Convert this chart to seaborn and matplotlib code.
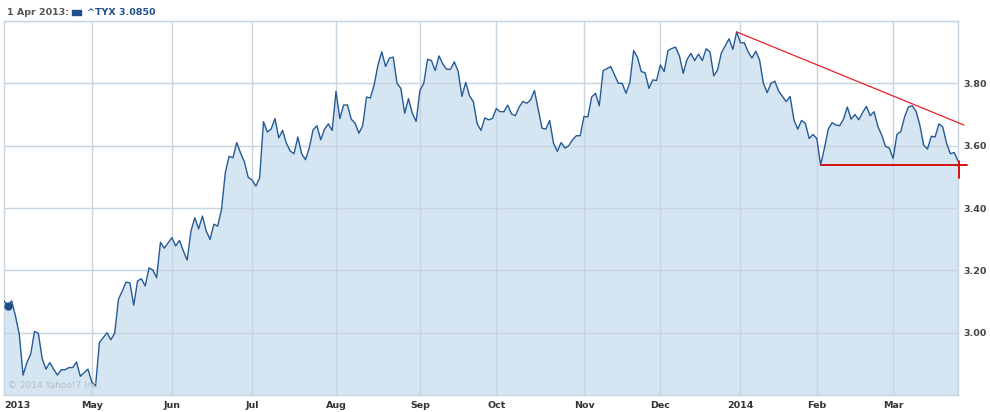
import matplotlib
matplotlib.use("Agg")
import matplotlib.pyplot as plt
import numpy as np
import pandas as pd
import seaborn as sns

# ^TYX daily close, one value per trading session (1 Apr 2013 - Mar 2014)
tyx_close = [
    3.102, 3.086, 3.102, 3.054, 2.995, 2.864, 2.904, 2.931, 3.004, 2.998,
    2.917, 2.883, 2.904, 2.883, 2.864, 2.881, 2.881, 2.888, 2.888, 2.906,
    2.860, 2.872, 2.883, 2.842, 2.830, 2.968, 2.984, 3.000, 2.977, 2.998,
    3.107, 3.134, 3.162, 3.160, 3.088, 3.166, 3.173, 3.150, 3.208, 3.201,
    3.176, 3.290, 3.271, 3.288, 3.305, 3.278, 3.296, 3.262, 3.233, 3.326,
    3.369, 3.333, 3.374, 3.326, 3.299, 3.348, 3.342, 3.395, 3.514, 3.566,
    3.561, 3.610, 3.576, 3.548, 3.498, 3.490, 3.470, 3.497, 3.677, 3.644,
    3.653, 3.687, 3.625, 3.649, 3.608, 3.583, 3.574, 3.628, 3.574, 3.555,
    3.593, 3.651, 3.664, 3.619, 3.653, 3.670, 3.649, 3.774, 3.687, 3.730,
    3.731, 3.685, 3.672, 3.640, 3.664, 3.756, 3.753, 3.795, 3.859, 3.901,
    3.854, 3.881, 3.884, 3.800, 3.784, 3.704, 3.751, 3.704, 3.678, 3.777,
    3.800, 3.877, 3.873, 3.841, 3.888, 3.862, 3.845, 3.845, 3.869, 3.839,
    3.758, 3.803, 3.760, 3.741, 3.670, 3.649, 3.689, 3.683, 3.687, 3.719,
    3.709, 3.709, 3.730, 3.702, 3.696, 3.724, 3.742, 3.736, 3.747, 3.777,
    3.717, 3.656, 3.653, 3.681, 3.608, 3.582, 3.610, 3.592, 3.600, 3.619,
    3.632, 3.632, 3.694, 3.692, 3.756, 3.768, 3.728, 3.841, 3.847, 3.854,
    3.827, 3.800, 3.800, 3.768, 3.802, 3.905, 3.884, 3.838, 3.834, 3.784,
    3.811, 3.809, 3.859, 3.838, 3.905, 3.912, 3.916, 3.888, 3.832, 3.877,
    3.896, 3.873, 3.894, 3.873, 3.911, 3.901, 3.824, 3.843, 3.898, 3.920,
    3.943, 3.909, 3.965, 3.930, 3.930, 3.901, 3.881, 3.903, 3.875, 3.800,
    3.770, 3.800, 3.807, 3.775, 3.758, 3.741, 3.758, 3.683, 3.653, 3.681,
    3.672, 3.623, 3.636, 3.623, 3.538, 3.592, 3.653, 3.674, 3.666, 3.664,
    3.685, 3.724, 3.685, 3.700, 3.683, 3.706, 3.726, 3.696, 3.709, 3.662,
    3.634, 3.598, 3.592, 3.559, 3.636, 3.645, 3.692, 3.724, 3.728, 3.711,
    3.666, 3.602, 3.589, 3.630, 3.628, 3.670, 3.660, 3.608, 3.574, 3.578,
    3.551,
]
session = list(range(len(tyx_close)))

# first session of each month and its label
month_start = [0, 23, 44, 65, 87, 109, 129, 152, 172, 193, 213, 233]
month_label = ["2013", "May", "Jun", "Jul", "Aug", "Sep", "Oct", "Nov",
               "Dec", "2014", "Feb", "Mar"]

y_ticks = [3.00, 3.20, 3.40, 3.60, 3.80]
y_grid = [3.00, 3.20, 3.40, 3.60, 3.80, 4.00]

# drawn trend lines
resistance_x = [192, 251.6]
resistance_y = [3.965, 3.666]
support_x = [214, 252.3]
support_y = [3.538, 3.538]
last_tick_x = [250.3, 250.3]
last_tick_y = [3.551, 3.497]

hover_session = 1
hover_value = 3.085

df = pd.DataFrame({"session": session, "close": tyx_close})

sns.set_style("white")
plt.rcParams["font.family"] = ["DejaVu Sans"]

LINE = "#245a96"
FILL = "#d5e5f1"
GRID = "#c6d5e0"

fig = plt.figure(figsize=(9.9, 4.12), dpi=100)
ax = fig.add_axes([4 / 990, 17 / 412, 954 / 990, 374 / 412])

ax.fill_between(df["session"], df["close"], 2.80, color=FILL, lw=0, zorder=1)
sns.lineplot(data=df, x="session", y="close", ax=ax, color=LINE, lw=1.0,
             zorder=3)
ax.plot([hover_session], [hover_value], "o", color="#1b4f8a", ms=5,
        zorder=4, clip_on=False)

ax.plot(resistance_x, resistance_y, color="#e8202a", lw=0.9, zorder=5,
        clip_on=False)
ax.plot(support_x, support_y, color="#d40000", lw=1.3, zorder=5,
        clip_on=False)
ax.plot(last_tick_x, last_tick_y, color="#d40000", lw=1.3, zorder=5,
        clip_on=False)

ax.set_xlim(0, len(tyx_close) - 1)
ax.set_ylim(2.80, 4.00)

# grid
for y in y_grid:
    ax.axhline(y, color=GRID, lw=1, zorder=2)
for x in month_start[1:]:
    ax.axvline(x, color=GRID, lw=1, zorder=2)
for s in ax.spines.values():
    s.set_color(GRID)
    s.set_linewidth(1)

ax.yaxis.tick_right()
ax.set_yticks(y_ticks)
ax.set_yticklabels([f"{v:.2f}" for v in y_ticks], fontsize=6.8,
                   fontweight="bold", color="#444444")
ax.set_xticks(month_start)
ax.set_xticklabels(month_label, fontsize=6.8, fontweight="bold",
                   color="#333333")
ax.get_xticklabels()[0].set_horizontalalignment("left")
ax.tick_params(axis="both", length=0)
ax.tick_params(axis="y", pad=4)
ax.tick_params(axis="x", pad=4)
ax.set_xlabel("")
ax.set_ylabel("")

# header
fig.text(7 / 990, 1 - 12.5 / 412, "1 Apr 2013:", fontsize=6.8,
         fontweight="bold", color="#555555", va="center", ha="left")
fig.patches.append(plt.Rectangle((72 / 990, 1 - 15 / 412), 9 / 990, 5 / 412,
                                 transform=fig.transFigure, color="#1f4e8c"))
fig.text(87 / 990, 1 - 12.5 / 412, "^TYX 3.0850", fontsize=6.8,
         fontweight="bold", color="#1f4e8c", va="center", ha="left")

# watermark
ax.text(0.004, 0.025, "\u00a9 2014 Yahoo!7 Inc.", transform=ax.transAxes,
        fontsize=6.5, color="#b4c0c8", ha="left", va="center", zorder=6)

fig.savefig("out.png", dpi=100)
